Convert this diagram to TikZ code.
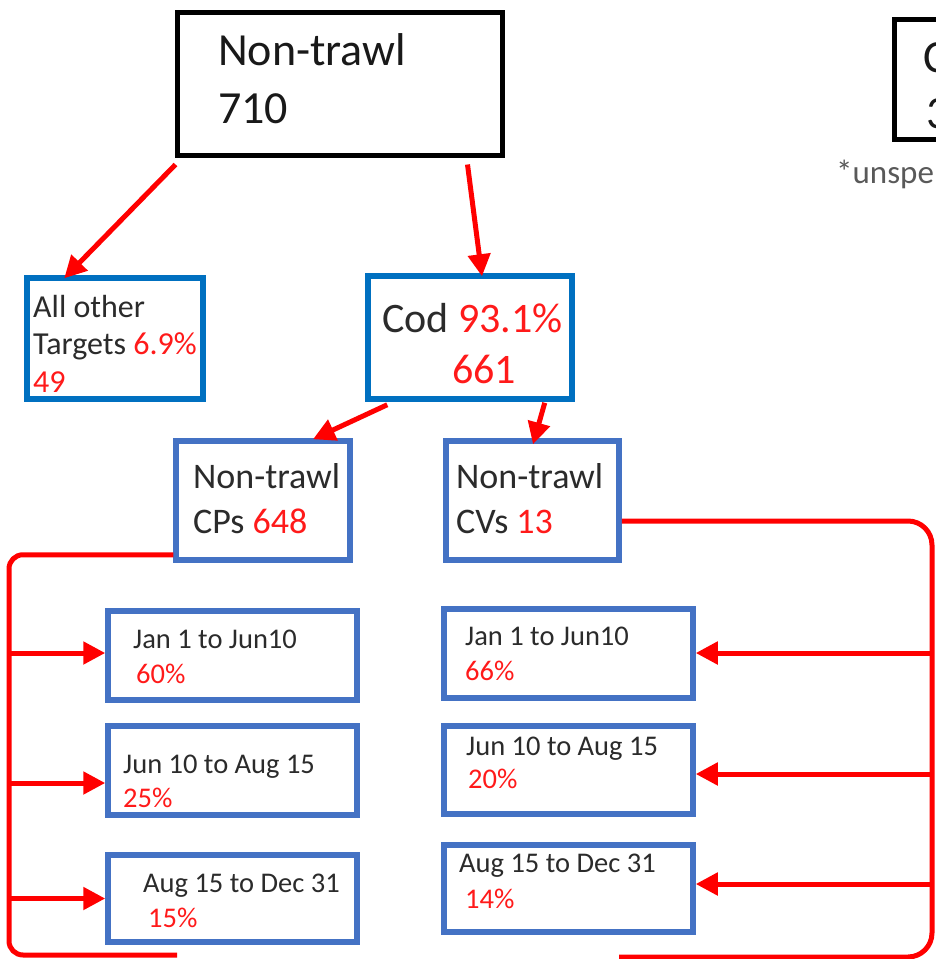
\documentclass[tikz,border=0pt]{standalone}
\usepackage{fontspec}
\setmainfont{Carlito}
\usetikzlibrary{arrows.meta,calc}
\definecolor{txt}{HTML}{2B2B2B}
\definecolor{pct}{HTML}{FF1A1A}
\definecolor{boxA}{HTML}{0070C0}
\definecolor{boxB}{HTML}{4472C4}
\definecolor{note}{HTML}{595959}
\tikzset{
  blk/.style={draw=black, line width=5pt, fill=white, inner sep=0pt},
  bluea/.style={draw=boxA, line width=5.5pt, fill=white, inner sep=0pt},
  blueb/.style={draw=boxB, line width=5.5pt, fill=white, inner sep=0pt},
  lbl/.style={anchor=base west, inner sep=0pt, text=txt},
  arr/.style={draw=red, line width=5pt, -{Triangle[length=22pt,width=22pt]}},
  brk/.style={draw=red, line width=5pt},
}
\newcommand{\fs}[1]{\fontsize{#1}{#1}\selectfont}
\begin{document}
\begin{tikzpicture}[x=1pt,y=-1pt]
\useasboundingbox (0,0) rectangle (936,959);
\clip (0,0) rectangle (936,959);
\fill[white] (0,0) rectangle (936,959);

% boxes
\node[blk, minimum width=325pt, minimum height=143pt] (top) at (339.5,83.5) {};
\node[blk, minimum width=106pt, minimum height=120pt] (topr) at (947,79.5) {};
\node[bluea, minimum width=176pt, minimum height=121pt] (allo) at (115,338.5) {};
\node[bluea, minimum width=204pt, minimum height=123pt] (cod) at (470,337.5) {};
\node[blueb, minimum width=174pt, minimum height=119pt] (cps) at (263,500.5) {};
\node[blueb, minimum width=173pt, minimum height=119pt] (cvs) at (532.5,500.5) {};
\node[blueb, minimum width=249pt, minimum height=89pt] (l1) at (232.5,655.5) {};
\node[blueb, minimum width=249pt, minimum height=89pt] (l2) at (232.5,770.5) {};
\node[blueb, minimum width=249pt, minimum height=87pt] (l3) at (232.5,898.5) {};
\node[blueb, minimum width=249pt, minimum height=89pt] (r1) at (568.5,653.5) {};
\node[blueb, minimum width=249pt, minimum height=88pt] (r2) at (568.5,770) {};
\node[blueb, minimum width=249pt, minimum height=87pt] (r3) at (568.5,888.5) {};

% texts
\node[lbl, text=black!90] (t1) at (218,65) {\fs{46}Non-trawl};
\node[lbl, text=black!90] (t2) at (218,123) {\fs{46}710};
\node[lbl, text=black!90] (tr1) at (923,72) {\fs{46}C};
\node[lbl, text=black!90] (tr2) at (926,128) {\fs{46}3};
\node[lbl, text=note] (nt) at (836,183) {\fs{33}*unspe};

\node[lbl] (a1) at (33,317) {\fs{32}All other};
\node[lbl] (a2) at (33,354) {\fs{32}Targets \textcolor{pct}{6.9\%}};
\node[lbl, text=pct] (a3) at (33,392) {\fs{32}49};

\node[lbl] (c1) at (382,332) {\fs{42}Cod \textcolor{pct}{93.1\%}};
\node[lbl, text=pct] (c2) at (452,383) {\fs{42}661};

\node[lbl] (p1) at (193,488) {\fs{36}Non-trawl};
\node[lbl] (p2) at (193,533) {\fs{36}CPs \textcolor{pct}{648}};
\node[lbl] (v1) at (456,488) {\fs{36}Non-trawl};
\node[lbl] (v2) at (456,533) {\fs{36}CVs \textcolor{pct}{13}};

\node[lbl] (l1a) at (133,648) {\fs{28.5}Jan 1 to Jun10};
\node[lbl, text=pct] (l1b) at (136,683) {\fs{28.5}60\%};
\node[lbl] (l2a) at (123,773) {\fs{28.5}Jun 10 to Aug 15};
\node[lbl, text=pct] (l2b) at (123,807) {\fs{28.5}25\%};
\node[lbl] (l3a) at (143,892) {\fs{28.5}Aug 15 to Dec 31};
\node[lbl, text=pct] (l3b) at (148,927) {\fs{28.5}15\%};

\node[lbl] (r1a) at (465,645) {\fs{28.5}Jan 1 to Jun10};
\node[lbl, text=pct] (r1b) at (465,680) {\fs{28.5}66\%};
\node[lbl] (r2a) at (466,755) {\fs{28.5}Jun 10 to Aug 15};
\node[lbl, text=pct] (r2b) at (468,788) {\fs{28.5}20\%};
\node[lbl] (r3a) at (459,872) {\fs{28.5}Aug 15 to Dec 31};
\node[lbl, text=pct] (r3b) at (465,908) {\fs{28.5}14\%};

% arrows from top levels
\draw[arr] ([shift={(1pt,-7pt)}]top.south west) -- ([shift={(40pt,-3pt)}]allo.north west);
\draw[arr] ([shift={(-37pt,-7pt)}]top.south east) -- ([shift={(12pt,-3pt)}]cod.north);
\draw[arr] ([shift={(22pt,-3pt)}]cod.south west) -- ([shift={(50pt,-1pt)}]cps.north);
\draw[arr] ([shift={(-30pt,-1pt)}]cod.south east) -- ([shift={(0.5pt,-6pt)}]cvs.north);

% bracket coordinates
\coordinate (lbar) at (9,0);
\coordinate (lend) at (177,955);
\coordinate (rbar) at (932,0);
\coordinate (rend) at (619,957);
\coordinate (lstart) at ([yshift=8pt]cps.south west);
\coordinate (rstart) at ([yshift=-20.5pt]cvs.east);

% left bracket
\draw[brk, rounded corners=14pt] (lstart) -- (lbar |- lstart) -- (lbar |- lend) -- (lend);
\draw[arr] ([yshift=2.5pt]l1.west -| lbar) -- ([yshift=2.5pt]l1.west);
\draw[arr] ([yshift=-12.5pt]l2.west -| lbar) -- ([yshift=-12.5pt]l2.west);
\draw[arr] (l3.west -| lbar) -- (l3.west);

% right bracket
\draw[brk, rounded corners=24pt] (rstart) -- (rbar |- rstart) -- (rbar |- rend) -- (rend);
\draw[arr] ([yshift=0.5pt]r1.east -| rbar) -- ([yshift=0.5pt]r1.east);
\draw[arr] ([yshift=-4pt]r2.east -| rbar) -- ([yshift=-4pt]r2.east);
\draw[arr] ([yshift=4.5pt]r3.east -| rbar) -- ([yshift=4.5pt]r3.east);
\end{tikzpicture}
\end{document}
